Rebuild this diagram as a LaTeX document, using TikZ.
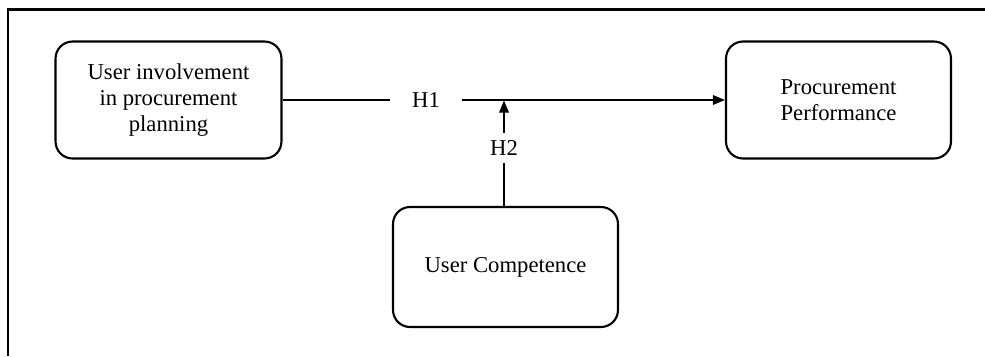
\documentclass[tikz,border=0pt]{standalone}
\usepackage{fontspec}
\setmainfont{Liberation Serif}
\usetikzlibrary{arrows.meta}

\begin{document}
\begin{tikzpicture}[x=0.02cm,y=-0.02cm]
            \tikzset{
              varbox/.style={draw=black, line width=1.2pt, rounded corners=0.34cm,
                align=center, inner sep=0pt},
              hlabel/.style={inner sep=0pt},
              link/.style={draw=black, line width=1.05pt},
              linkarrow/.style={link, -{Triangle[length=2.4mm,width=1.9mm]}}
            }
            \useasboundingbox (0,0) rectangle (985,356);
            \fontsize{12.9}{14.8}\selectfont
            % frame, only its top and left sides show
            \draw [black, line width=1.7pt] (8,356) -- (8,9.5) -- (985,9.5);
            % the three variables
            \node [varbox, minimum width=4.52cm, minimum height=2.34cm] (inv) at (168.5,100)
              {User involvement\\in procurement\\planning};
            \node [varbox, minimum width=4.5cm, minimum height=2.34cm] (perf) at (838.5,100)
              {Procurement\\Performance};
            \node [varbox, minimum width=4.5cm, minimum height=2.4cm] (comp) at (505.5,267)
              {User Competence};
            % hypothesis labels on the connectors
            \node [hlabel, minimum width=1.42cm, minimum height=0.4cm] (h1) at (426,100) {H1};
            \node [hlabel, minimum width=0.6cm, minimum height=0.6cm] (h2) at (504,148) {H2};
            \coordinate (join) at (504,100.5);
            \draw [link] (inv.east) -- (h1.west);
            \draw [linkarrow] (h1.east) -- (perf.west);
            \draw [link] (comp.north -| h2) -- (h2.south);
            \draw [linkarrow] (h2.north) -- (join);
        \end{tikzpicture}
\end{document}
